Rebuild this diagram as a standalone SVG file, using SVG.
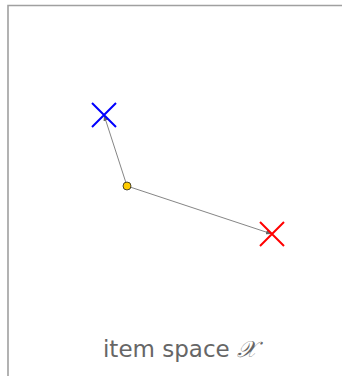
<svg xmlns="http://www.w3.org/2000/svg" width="342" height="376" viewBox="0 0 342 376">
<style>
.frame{fill:none;stroke:#a0a0a0;stroke-width:1.6}
.conn{stroke:#666;stroke-width:0.8;fill:none}
.cross{stroke-width:2;fill:none}
.lbl{font-family:"DejaVu Sans","Liberation Sans",sans-serif;font-size:23px;fill:#666}
</style>
<defs>
<marker id="ah" viewBox="0 0 10 10" refX="10" refY="5" markerWidth="6" markerHeight="6" orient="auto" markerUnits="userSpaceOnUse">
<path d="M0,1 L10,5 L0,9 z" fill="#666"/>
</marker>
</defs>
<path class="frame" d="M8,376 V5.5 H342"/>
<g id="connectors">
<line class="conn" x1="127" y1="186" x2="104" y2="115" marker-end="url(#ah)"/>
<line class="conn" x1="127" y1="186" x2="272" y2="234" marker-end="url(#ah)"/>
</g>
<g id="blue-x">
<path class="cross" stroke="#0000ff" d="M92,103 L116,127 M116,103 L92,127"/>
</g>
<g id="red-x">
<path class="cross" stroke="#ff0000" d="M260,222 L284,246 M284,222 L260,246"/>
</g>
<g id="dot">
<circle cx="127" cy="186" r="4" fill="#ffcc00" stroke="#222" stroke-width="0.8"/>
</g>
<g id="label">
<text class="lbl" x="180" y="357" text-anchor="middle">item space <tspan font-family="Liberation Serif, serif" font-style="italic">𝒳</tspan></text>
</g>
</svg>
